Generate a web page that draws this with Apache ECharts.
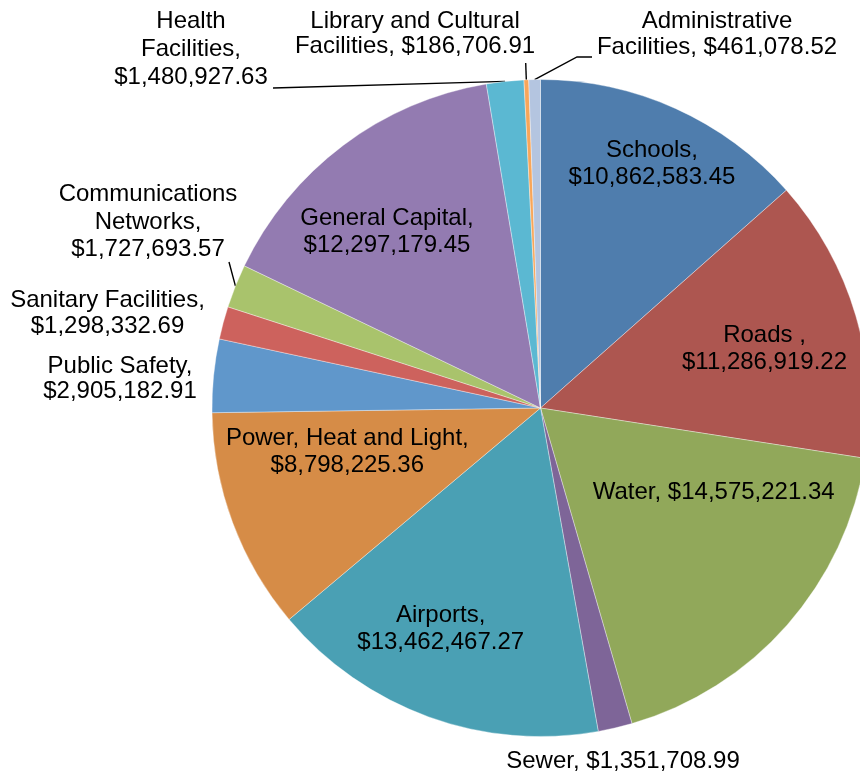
<!DOCTYPE html>
<html>
<head>
    <meta charset="utf-8">
    <script type="text/javascript" src="https://cdn.jsdelivr.net/npm/echarts@6/dist/echarts.min.js"></script>
    <style>html, body { margin: 0; background: #fff; }</style>
</head>
<body>
    <div id="container" style="width: 860px; height: 776px;"></div>
    <script type="text/javascript">
    // categories in clockwise order from 12 o'clock
    var categories = ['Schools', 'Roads ', 'Water', 'Sewer', 'Airports',
        'Power, Heat and Light', 'Public Safety', 'Sanitary Facilities',
        'Communications Networks', 'General Capital', 'Health Facilities',
        'Library and Cultural Facilities', 'Administrative Facilities'];
    var amounts = [10862583.45, 11286919.22, 14575221.34, 1351708.99, 13462467.27,
        8798225.36, 2905182.91, 1298332.69, 1727693.57, 12297179.45, 1480927.63,
        186706.91, 461078.52];

    var colors = ['#4f7dad', '#ad5650', '#91a85a', '#7e6598', '#4aa0b4', '#d68c47',
        '#6097cb', '#cd625d', '#a9c36c', '#937bb1', '#5bb8d2', '#f8a65a', '#b4c5e0'];

    // label placement: text centre, word counts after which a line breaks,
    // line height, leader line end points
    var labelSpots = {
        'Schools':                        { x: 652,   y: 164,   br: [1] },
        'Roads ':                         { x: 764.5, y: 348.5, br: [2] },
        'Water':                          { x: 713.7, y: 492.5, br: [] },
        'Sewer':                          { x: 623,   y: 761.7, br: [] },
        'Airports':                       { x: 440.7, y: 628.5, br: [1] },
        'Power, Heat and Light':          { x: 347.3, y: 452.2, br: [4] },
        'Public Safety':                  { x: 120,   y: 379,   br: [2], lh: 25.7 },
        'Sanitary Facilities':            { x: 107.5, y: 313.7, br: [2], lh: 26 },
        'Communications Networks':        { x: 148,   y: 222,   br: [1, 2], lh: 27.6, line: [[229, 262]] },
        'General Capital':                { x: 387,   y: 231.7, br: [2] },
        'Health Facilities':              { x: 191,   y: 49.7,  br: [1, 2], lh: 28, line: [[273, 88]] },
        'Library and Cultural Facilities':{ x: 415,   y: 34,    br: [3], lh: 25.4, line: [[525.7, 63]] },
        'Administrative Facilities':      { x: 717,   y: 34.5,  br: [1], lh: 25.4, line: [[577, 57], [592, 57]] }
    };

    function money(v) {
        var s = v.toFixed(2).split('.');
        return '$' + s[0].replace(/\B(?=(\d{3})+(?!\d))/g, ',') + '.' + s[1];
    }

    function wrapText(text, br) {
        var words = text.split(' ');
        var out = '';
        for (var i = 0; i < words.length; i++) {
            if (i > 0) out += br.indexOf(i) >= 0 ? '\n' : ' ';
            out += words[i];
        }
        return out;
    }

    var pieData = categories.map(function (name, i) {
        var spot = labelSpots[name];
        var item = {
            name: name,
            value: amounts[i],
            label: {}
        };
        if (spot.lh) item.label.lineHeight = spot.lh;
        if (spot.line) item.labelLine = { show: true };
        return item;
    });

    var myChart = echarts.init(document.getElementById('container'));
    var option = {
        backgroundColor: '#fff',
        animation: false,
        color: colors,
        series: [{
            type: 'pie',
            center: [540.5, 408],
            radius: 328.5,
            startAngle: 90,
            clockwise: true,
            avoidLabelOverlap: false,
            emphasis: { disabled: true },
            itemStyle: {
                borderColor: 'rgba(255,255,255,0.6)',
                borderWidth: 0.6
            },
            label: {
                show: true,
                position: 'outside',
                color: '#000',
                fontSize: 24,
                fontFamily: "'Liberation Sans', Arial, sans-serif",
                lineHeight: 27,
                width: 400,
                overflow: 'none',
                formatter: function (p) {
                    var spot = labelSpots[p.name];
                    return wrapText(p.name + ', ' + money(p.value), spot.br);
                }
            },
            labelLine: {
                show: false,
                length: 10,
                length2: 10,
                lineStyle: { color: '#000', width: 1.4 }
            },
            labelLayout: function (params) {
                var spot = labelSpots[categories[params.dataIndex]];
                var out = { x: spot.x, y: spot.y, align: 'center', verticalAlign: 'middle' };
                if (spot.line && params.labelLinePoints) {
                    out.labelLinePoints = [params.labelLinePoints[0]].concat(spot.line);
                }
                return out;
            },
            data: pieData
        }]
    };
    myChart.setOption(option);
    </script>
</body>
</html>
